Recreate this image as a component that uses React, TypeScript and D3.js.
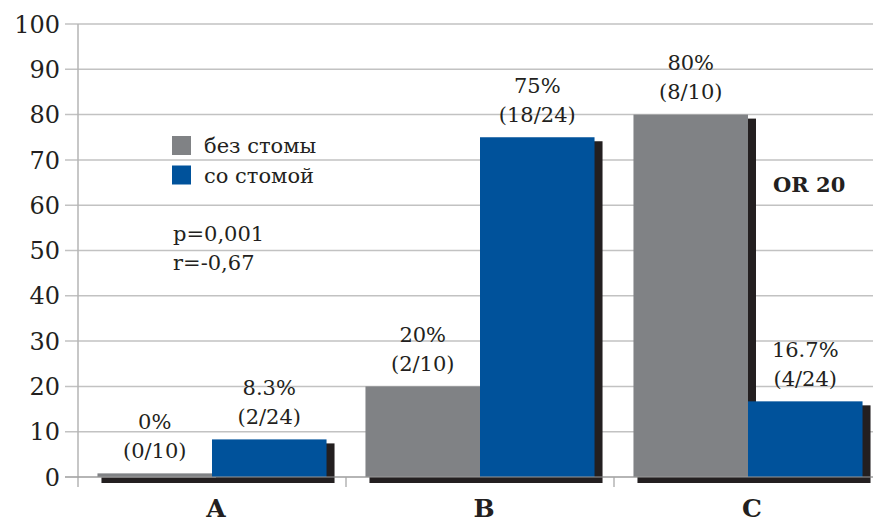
import { useEffect } from "react";
import * as d3 from "d3";

const categories = ["A", "B", "C"];
const seriesKeys = ["without", "with"];
const seriesNames = ["без стомы", "со стомой"];
const seriesColors = ["#808285", "#00529b"];
// plotted heights (0% bar is drawn as a thin sliver)
const withoutStoma = [0.8, 20, 80];
const withStoma = [8.3, 75, 16.7];
const withoutLabels = [
  ["0%", "(0/10)"],
  ["20%", "(2/10)"],
  ["80%", "(8/10)"],
];
const withLabels = [
  ["8.3%", "(2/24)"],
  ["75%", "(18/24)"],
  ["16.7%", "(4/24)"],
];
const yTicks = [0, 10, 20, 30, 40, 50, 60, 70, 80, 90, 100];
const statLines = ["p=0,001", "r=-0,67"];
const oddsRatio = "OR 20";

const width = 873;
const height = 522;
const font = "'DejaVu Serif', serif";
const ink = "#231f20";
const gridColor = "#c2c2c2";

export default function App() {
  useEffect(() => {
    document.body.style.margin = "0";
  }, []);

  const x = d3.scaleBand<string>().domain(categories).range([78, 882]).padding(0);
  const inner = d3
    .scaleBand<string>()
    .domain(seriesKeys)
    .range([0, x.bandwidth()])
    .paddingInner(0)
    .paddingOuter(0.17);
  const y = d3.scaleLinear().domain([0, 100]).range([477, 24]);

  const series = [
    { key: "without", values: withoutStoma, labels: withoutLabels, color: seriesColors[0] },
    { key: "with", values: withStoma, labels: withLabels, color: seriesColors[1] },
  ];

  const bars = series.flatMap((s) =>
    categories.map((c, i) => ({
      key: `${s.key}-${c}`,
      x: (x(c) ?? 0) + (inner(s.key) ?? 0),
      w: inner.bandwidth(),
      top: y(s.values[i]),
      h: y(0) - y(s.values[i]),
      color: s.color,
      labels: s.labels[i],
    })),
  );

  return (
    <svg width={width} height={height} style={{ display: "block" }} fontFamily={font}>
      <rect width={width} height={height} fill="#ffffff" />
      {yTicks.map((t) => (
        <g key={t}>
          <line x1={65} x2={width} y1={y(t)} y2={y(t)} stroke={gridColor} strokeWidth={1.5} />
          <text x={60} y={y(t)} dy="0.36em" textAnchor="end" fontSize={24} fill={ink}>
            {t}
          </text>
        </g>
      ))}
      <line x1={78} x2={78} y1={y(100)} y2={y(0) + 10} stroke="#b5b5b5" strokeWidth={1.5} />
      {categories.map((c) => (
        <line
          key={c}
          x1={(x(c) ?? 0) + x.bandwidth()}
          x2={(x(c) ?? 0) + x.bandwidth()}
          y1={y(0)}
          y2={y(0) + 10}
          stroke="#b5b5b5"
          strokeWidth={1.5}
        />
      ))}
      {bars.map((b) => (
        <rect key={`s-${b.key}`} x={b.x + 4} y={b.top + 4} width={b.w + 4} height={b.h + 2} fill={ink} />
      ))}
      {bars.map((b) => (
        <rect key={b.key} x={b.x} y={b.top} width={b.w} height={b.h} fill={b.color} />
      ))}
      <line x1={65} x2={width} y1={y(0)} y2={y(0)} stroke="#9a9a9a" strokeWidth={1.2} />
      {bars.map((b) => (
        <text key={`l-${b.key}`} textAnchor="middle" fontSize={21} fill={ink}>
          <tspan x={b.x + b.w / 2} y={b.top - 52} dy="0.36em">
            {b.labels[0]}
          </tspan>
          <tspan x={b.x + b.w / 2} y={b.top - 23} dy="0.36em">
            {b.labels[1]}
          </tspan>
        </text>
      ))}
      {categories.map((c) => (
        <text
          key={`c-${c}`}
          x={(x(c) ?? 0) + x.bandwidth() / 2 + 4}
          y={508}
          dy="0.36em"
          textAnchor="middle"
          fontSize={25}
          fontWeight="bold"
          fill={ink}
        >
          {c}
        </text>
      ))}
      {seriesNames.map((name, i) => (
        <g key={name} transform={`translate(172,${136 + i * 29.5})`}>
          <rect width={19} height={19} fill={seriesColors[i]} />
          <text x={32} y={9.5} dy="0.36em" fontSize={21} fill={ink}>
            {name}
          </text>
        </g>
      ))}
      {statLines.map((s, i) => (
        <text key={s} x={173} y={233 + i * 29} dy="0.36em" fontSize={21} fill={ink}>
          {s}
        </text>
      ))}
      <text x={773} y={184} dy="0.36em" fontSize={21} fontWeight="bold" fill={ink}>
        {oddsRatio}
      </text>
    </svg>
  );
}
